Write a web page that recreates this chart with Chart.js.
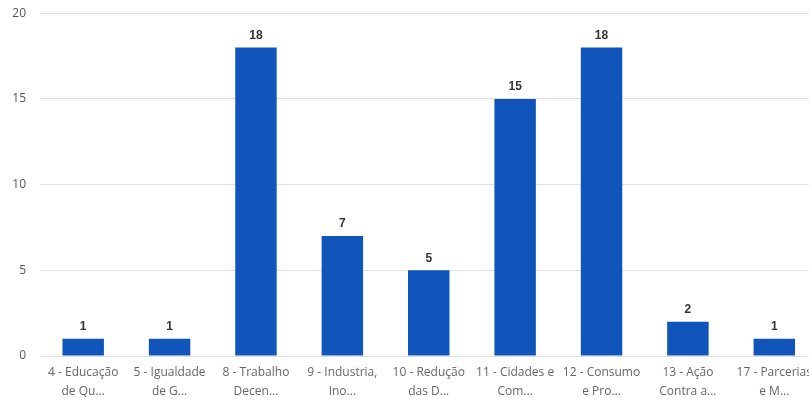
<!DOCTYPE html>
<html>
<head>
<meta charset="utf-8">
<script src="https://cdn.jsdelivr.net/npm/chart.js@4/dist/chart.umd.min.js"></script>
<style>
html, body { margin: 0; padding: 0; background: #fff; overflow: hidden; }
#wrap { width: 819px; height: 424px; position: relative; top: -8px; }
</style>
</head>
<body>
<div id="wrap"><canvas id="odsChart"></canvas></div>
<script>
var categorias = [
	["4 - Educação", "de Qu..."],
	["5 - Igualdade", "de G..."],
	["8 - Trabalho", "Decen..."],
	["9 - Industria,", "Ino..."],
	["10 - Redução", "das D..."],
	["11 - Cidades e", "Com..."],
	["12 - Consumo", "e Pro..."],
	["13 - Ação", "Contra a..."],
	["17 - Parcerias", "e M..."]
];
var valores = [1, 1, 18, 7, 5, 15, 18, 2, 1];
var ticksY = [0, 5, 10, 15, 20];

// escreve o valor em cima de cada barra
var rotulos = {
	id: "rotulos",
	afterDatasetsDraw: function(chart) {
		var ctx = chart.ctx;
		var meta = chart.getDatasetMeta(0);
		ctx.save();
		ctx.font = "bold 12px 'Liberation Sans', Arial, sans-serif";
		ctx.fillStyle = "#333";
		ctx.textAlign = "center";
		ctx.textBaseline = "bottom";
		meta.data.forEach(function(bar, i) {
			ctx.fillText(valores[i], bar.x, bar.y - 6);
		});
		ctx.restore();
	}
};

var popCanvas = document.getElementById("odsChart");
var barChart = new Chart(popCanvas, {
	type: 'bar',
	data: {
		labels: categorias,
		datasets: [{
			data: valores,
			backgroundColor: '#1155bb',
			barPercentage: 0.48,
			categoryPercentage: 1
		}]
	},
	options: {
		responsive: true,
		maintainAspectRatio: false,
		animation: false,
		layout: { padding: { top: 5, right: 0, left: 0, bottom: 0 } },
		plugins: { legend: { display: false }, tooltip: { enabled: false } },
		scales: {
			x: {
				grid: { display: false, drawTicks: false },
				border: { display: false },
				ticks: {
					color: '#666',
					font: { family: "'Open Sans', sans-serif", size: 12, lineHeight: 1.6 },
					maxRotation: 0,
					autoSkip: false,
					padding: 7
				},
				afterFit: function(scale) { scale.height = 60; }
			},
			y: {
				min: 0,
				max: 20,
				afterBuildTicks: function(scale) {
					scale.ticks = ticksY.map(function(v) { return { value: v }; });
				},
				grid: { color: '#e1e1e1', drawTicks: false },
				border: { display: false },
				ticks: {
					color: '#555',
					font: { family: "'Open Sans', sans-serif", size: 12 },
					padding: 14
				},
				afterFit: function(scale) { scale.width = 40; }
			}
		}
	},
	plugins: [rotulos]
});
</script>
</body>
</html>
